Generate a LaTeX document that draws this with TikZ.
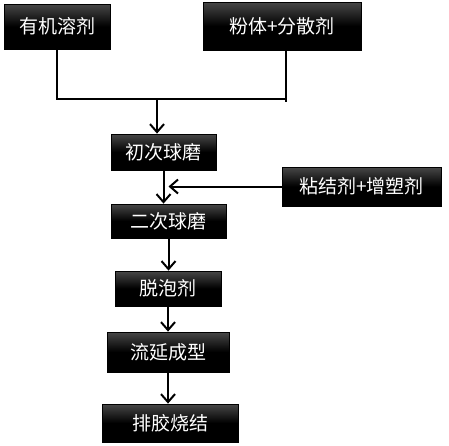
\documentclass[tikz,border=0pt]{standalone}
\usepackage{fontspec}
\setmainfont{Noto Sans CJK SC}
\usepackage{tikz}
\usetikzlibrary{arrows.meta,positioning,calc}

\begin{document}
\begin{tikzpicture}[x=1pt,y=-1pt,
  stepbox/.style={draw=black,line width=0.8pt,top color=black!72,bottom color=black,middle color=black,
    text=white,font=\fontsize{19}{22}\selectfont,inner sep=0pt},
  link/.style={line width=2pt},
  flow/.style={line width=2pt,-{Straight Barb[length=8pt,width=14pt]}}]
\useasboundingbox (0,0) rectangle (449,445);
\node [stepbox,minimum width=106pt,minimum height=45pt] (solvent) at (57,26.5) {有机溶剂};
\node [stepbox,minimum width=158pt,minimum height=48pt] (powder) at (282,26) {粉体+分散剂};
\node [stepbox,minimum width=105pt,minimum height=36pt] (ballA) at (163.5,152) {初次球磨};
\node [stepbox,minimum width=159pt,minimum height=39pt] (binder) at (361.5,186.5) {粘结剂+增塑剂};
\node [stepbox,minimum width=115pt,minimum height=34pt] (ballB) at (168.5,221) {二次球磨};
\node [stepbox,minimum width=106pt,minimum height=35pt] (defoam) at (168,288.5) {脱泡剂};
\node [stepbox,minimum width=122pt,minimum height=40pt] (cast) at (168,352) {流延成型};
\node [stepbox,minimum width=136pt,minimum height=38pt] (sinter) at (170,423) {排胶烧结};
\coordinate (mixR) at (286,102);
\coordinate (mix) at (157,99);
\draw [link] (solvent.south) |- (mixR |- mix);
\draw [link] (powder.south -| mixR) -- (mixR);
\draw [flow] (mix) -- (mix |- ballA.north);
\draw [flow] (ballA.south) -- (ballA.south |- ballB.north);
\draw [flow] (binder.west) -- (binder.west -| ballB.north);
\draw [flow] (ballB.south) -- (ballB.south |- defoam.north);
\draw [flow] (defoam.south) -- (cast.north);
\draw [flow] (cast.south) -- (cast.south |- sinter.north);
\end{tikzpicture}
\end{document}
